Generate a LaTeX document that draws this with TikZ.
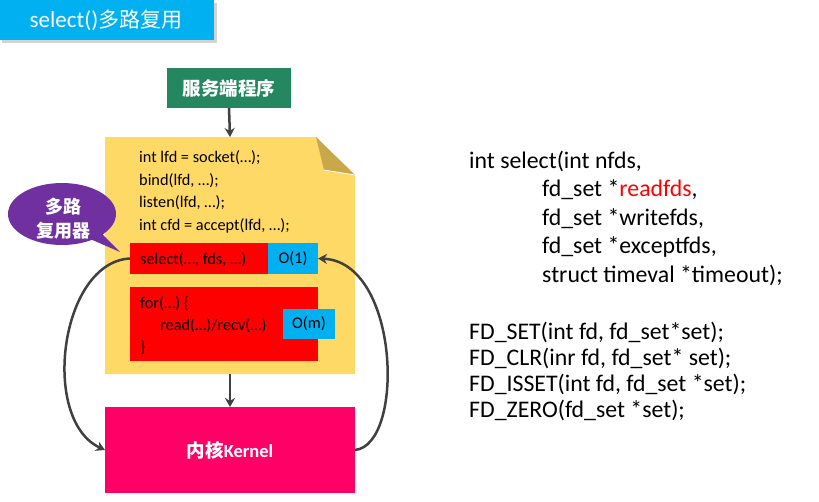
\documentclass[tikz,border=0pt]{standalone}
\usepackage{fontspec}
\setmainfont{Carlito}
\newfontfamily\cjk{Noto Sans CJK SC}
\usetikzlibrary{shapes.callouts,shadows,arrows.meta}
\definecolor{titleblue}{HTML}{00B0F0}
\definecolor{servgreen}{HTML}{24875F}
\definecolor{docyellow}{HTML}{FFD966}
\definecolor{docfold}{HTML}{C9A84C}
\definecolor{codered}{HTML}{FF0000}
\definecolor{cblue}{HTML}{00B0F0}
\definecolor{kernpink}{HTML}{FF0066}
\definecolor{bubpurple}{HTML}{7030A0}
\definecolor{arrgray}{HTML}{404040}
\tikzset{
  box/.style={rectangle, inner sep=0pt, outer sep=0pt},
  codetxt/.style={anchor=base west, inner sep=0pt, font=\fontsize{16.3}{19}\selectfont, text=black},
  sigtxt/.style={anchor=base west, inner sep=0pt, font=\fontsize{23.8}{28}\selectfont, text=black},
  flow/.style={draw=arrgray, line width=2.5pt, -{Stealth[length=9pt,width=10pt]}},
}
\begin{document}
\begin{tikzpicture}[x=1pt,y=-1pt]
\useasboundingbox (0,0) rectangle (819,501);
% title
\node[box, fill=titleblue, minimum width=215pt, minimum height=40pt,
      drop shadow={shadow xshift=3pt, shadow yshift=-3pt, opacity=.35, fill=gray},
      text=white, font=\fontsize{23}{26}\selectfont] (title) at (106,20) {select(){\cjk\fontsize{21}{26}\selectfont 多路复用}};
% server
\node[box, fill=servgreen, minimum width=124pt, minimum height=40pt, text=white,
      font=\fontsize{18.5}{22}\selectfont\bfseries] (server) at (229,88) {\cjk 服务端程序};
% document
\node[box, minimum width=250pt, minimum height=237pt] (doc) at (230,255.5) {};
\fill[docyellow] (doc.north west) -- (316,137) -- (355,175) -- (doc.south east) -- (doc.south west) -- cycle;
\fill[docfold] (316,137) -- (324,170) -- (355,175) -- cycle;
\draw[white, line width=0.8pt] (324,170) -- (355,175);
\node[codetxt] (l1) at (139,162) {int lfd = socket(…);};
\node[codetxt] (l2) at (139,185) {bind(lfd, …);};
\node[codetxt] (l3) at (139,207) {listen(lfd, …);};
\node[codetxt] (l4) at (139,230) {int cfd = accept(lfd, …);};
% select row
\node[box, fill=codered, minimum width=138pt, minimum height=31pt] (sel) at (199,258.5) {};
\node[codetxt] (seltxt) at (140,264) {select(…, fds, …)};
\node[box, fill=cblue, minimum width=50pt, minimum height=31pt,
      font=\fontsize{16.3}{19}\selectfont] (o1) at (293,258.5) {O(1)};
% for block
\node[box, fill=codered, minimum width=188pt, minimum height=74pt] (forb) at (224,324) {};
\node[codetxt] (f1) at (140,308) {for(…) \{};
\node[codetxt] (f2) at (160,330) {read(…)/recv(…)};
\node[codetxt] (f3) at (140,352) {\}};
\node[box, fill=cblue, minimum width=52pt, minimum height=30pt,
      font=\fontsize{16.3}{19}\selectfont] (om) at (309,324) {O(m)};
% kernel
\node[box, fill=kernpink, minimum width=250pt, minimum height=86pt, text=white,
      font=\fontsize{18.5}{22}\selectfont\bfseries] (kern) at (230,450) {{\cjk 内核}Kernel};
% bubble
\node[ellipse callout, fill=bubpurple, minimum width=108pt, minimum height=62pt,
      callout absolute pointer={(120,252)}, inner sep=0pt] (bub) at (62,214) {};
\node[text=white, align=center, inner sep=0pt,
      font=\fontsize{18}{24}\selectfont\bfseries] (bubtxt) at (63,219) {\cjk 多路\\\cjk 复用器};
% connectors
\draw[flow] (server.south) -- (doc.north);
\draw[flow] (doc.south) -- (kern.north);
\draw[flow] (sel.west) .. controls (60,262) and (40,420) .. (kern.west);
\draw[flow] (kern.east) .. controls (405,445) and (400,262) .. (o1.east);
% signature text
\node[sigtxt] (s1) at (469,168) {int select(int nfds,};
\node[sigtxt] (s2) at (542,196.5) {fd\_set *\textcolor{codered}{readfds},};
\node[sigtxt] (s3) at (542,225) {fd\_set *writefds,};
\node[sigtxt] (s4) at (542,253.5) {fd\_set *exceptfds,};
\node[sigtxt] (s5) at (542,282) {struct timeval *timeout);};
\node[sigtxt] (m1) at (469,339) {FD\_SET(int fd, fd\_set*set);};
\node[sigtxt] (m2) at (469,365) {FD\_CLR(inr fd, fd\_set* set);};
\node[sigtxt] (m3) at (469,391) {FD\_ISSET(int fd, fd\_set *set);};
\node[sigtxt] (m4) at (469,417) {FD\_ZERO(fd\_set *set);};
\end{tikzpicture}
\end{document}
